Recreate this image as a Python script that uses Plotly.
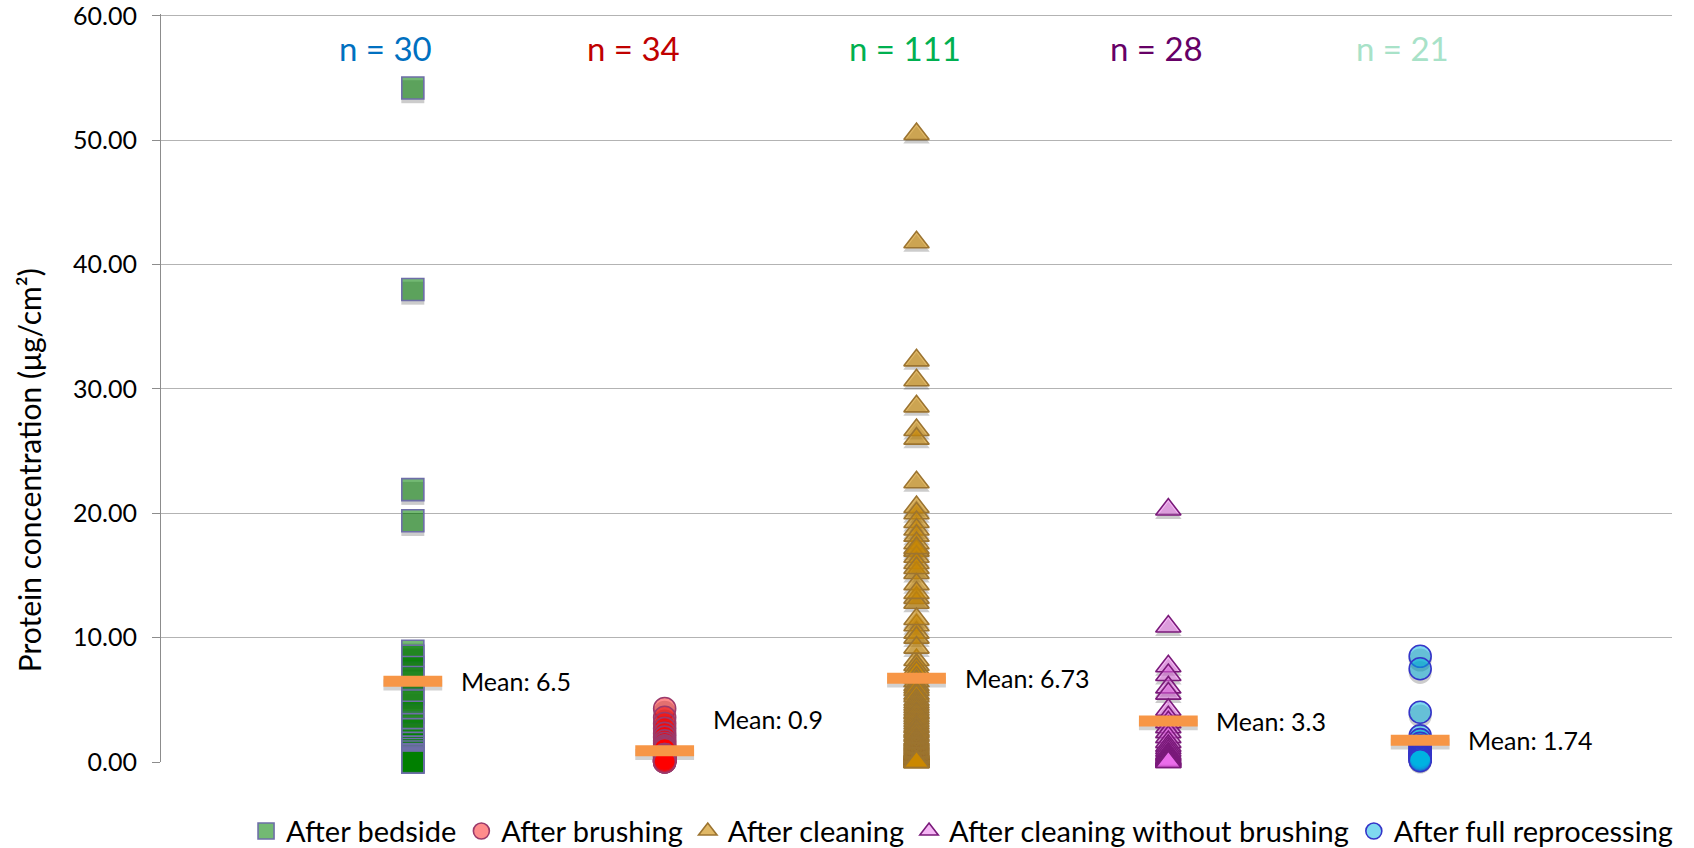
import plotly.graph_objects as go

# ---- data -------------------------------------------------------------
groups = ["After bedside", "After brushing", "After cleaning",
          "After cleaning without brushing", "After full reprocessing"]

bedside = [54.2, 38.0, 21.9, 19.4, 8.9, 8.5, 7.6, 6.8, 5.5, 4.9, 4.0, 3.0,
           2.6, 1.8, 1.5, 1.2, 1.0, 0.8, 0.6, 0.5, 0.4, 0.3, 0.3, 0.2, 0.2,
           0.1, 0.1, 0.0, 0.0, 0.0]

brushing = [4.3, 3.6, 3.1, 2.7, 2.3, 2.0, 1.7, 1.5, 1.3, 1.2, 1.1, 1.0,
            0.6, 0.6, 0.5, 0.5, 0.4, 0.4, 0.3, 0.3, 0.2, 0.2, 0.2, 0.1,
            0.1, 0.1, 0.1, 0.0, 0.0, 0.2, 0.2, 0.1, 0.1, 0.0]

cleaning = [50.5, 41.8, 32.3, 30.7, 28.6, 26.7, 26.0, 22.5, 20.5, 20.0,
            19.3, 18.7, 18.2, 17.6, 17.0, 16.5, 16.0, 15.2, 14.3, 13.2,
            12.8, 11.0, 10.4, 10.0, 8.2, 17.2, 15.6, 13.6, 11.5, 9.2,
            7.8, 7.5, 7.2, 6.8, 6.5, 6.2, 6.0, 5.8, 5.5, 5.3, 5.0,
            4.8, 4.6, 4.4, 4.2, 4.0, 3.9, 3.7, 3.5, 3.3, 3.1,
            2.9, 2.8, 2.6, 2.5, 2.4, 2.2, 2.1,
            1.9, 1.8, 1.7, 1.6, 1.5, 1.4, 1.3, 1.2, 1.1, 1.0,
            0.9, 0.9, 0.8, 0.8, 0.8, 0.7, 0.7, 0.7, 0.6, 0.6, 0.6, 0.6,
            0.5, 0.5, 0.5, 0.5, 0.5, 0.4, 0.4, 0.4, 0.4, 0.4,
            0.3, 0.3, 0.3, 0.3, 0.3, 0.2, 0.2, 0.2, 0.2, 0.2,
            0.1, 0.1, 0.1, 0.1, 0.1, 0.1, 0.0, 0.0, 0.0, 0.0, 0.0]

no_brushing = [20.3, 10.9, 7.7, 7.0, 6.0, 5.5, 4.2, 3.6, 3.2, 2.8, 2.4, 2.0,
               1.6, 1.3, 1.1, 0.9, 0.7, 0.6, 0.5, 0.4, 0.3, 0.3, 0.2, 0.2,
               0.1, 0.1, 0.0, 0.0]

full_reprocessing = [8.5, 7.5, 4.0, 2.1, 1.8, 1.5, 1.3, 1.2, 1.0, 0.9, 0.8,
                     0.7, 0.6, 0.6, 0.5, 0.5, 0.4, 0.4, 0.3, 0.2, 0.1]

series = [bedside, brushing, cleaning, no_brushing, full_reprocessing]

means = [6.5, 0.9, 6.73, 3.3, 1.74]
mean_labels = ["Mean: 6.5", "Mean: 0.9", "Mean: 6.73", "Mean: 3.3", "Mean: 1.74"]
n_labels = ["n = 30", "n = 34", "n = 111", "n = 28", "n = 21"]
y_ticks = [0, 10, 20, 30, 40, 50, 60]

# ---- styles -----------------------------------------------------------
FONT = "Lato, 'Open Sans', sans-serif"
symbols = ["square", "circle", "triangle-up", "triangle-up", "circle"]
fills = ["rgba(0,128,0,0.55)", "rgba(255,0,0,0.45)", "rgba(204,136,0,0.6)",
         "rgba(235,110,235,0.5)", "rgba(0,180,225,0.5)"]
edges = ["#6E6EA8", "#9B3A6B", "#9C7430", "#7A1A7A", "#3535C8"]
sizes = [22, 22, 22, 22, 22]
n_colors = ["#0070C0", "#C00000", "#00B050", "#660066", "#A8E2C8"]
n_xshift = [-27, -31, -12, -12, -18]
mean_yshift = [0, 32, 0, 0, 0]
SHADOW = "rgba(0,0,0,0.2)"
MEAN_COLOR = "#F79646"

fig = go.Figure()

# soft drop shadows, drawn on a hidden axis shifted a few pixels down
for i, vals in enumerate(series):
    fig.add_trace(go.Scatter(
        x=[i + 1] * len(vals), y=vals, mode="markers", xaxis="x", yaxis="y",
        marker=dict(symbol=symbols[i], size=sizes[i] + 1, color=SHADOW,
                    line=dict(width=0)),
        showlegend=False, hoverinfo="skip", cliponaxis=False))
fig.add_trace(go.Scatter(
    x=[i + 1 for i in range(len(means))], y=means, mode="markers",
    xaxis="x", yaxis="y",
    marker=dict(symbol="line-ew", size=42,
                line=dict(width=11, color="rgba(0,0,0,0.18)")),
    showlegend=False, hoverinfo="skip", cliponaxis=False))

# measured protein concentrations
for i, vals in enumerate(series):
    fig.add_trace(go.Scatter(
        x=[i + 1] * len(vals), y=vals, mode="markers", name=groups[i],
        xaxis="x", yaxis="y2",
        marker=dict(symbol=symbols[i], size=sizes[i], color=fills[i],
                    line=dict(width=1.6, color=edges[i])),
        cliponaxis=False))

# group means
fig.add_trace(go.Scatter(
    x=[i + 1 for i in range(len(means))], y=means, mode="markers",
    xaxis="x", yaxis="y2",
    marker=dict(symbol="line-ew", size=42,
                line=dict(width=11, color=MEAN_COLOR)),
    showlegend=False, hoverinfo="skip", cliponaxis=False))

annotations = []
for i, (m, lab) in enumerate(zip(means, mean_labels)):
    annotations.append(dict(
        x=i + 1, y=m, xref="x", yref="y2", text=lab, showarrow=False,
        xanchor="left", yanchor="middle", xshift=46, yshift=mean_yshift[i],
        font=dict(family=FONT, size=25, color="#000000")))
for i, lab in enumerate(n_labels):
    annotations.append(dict(
        x=i + 1, y=0.955, xref="x", yref="paper", text=lab, showarrow=False,
        xanchor="center", yanchor="middle", xshift=n_xshift[i],
        font=dict(family=FONT, size=33, color=n_colors[i])))
annotations.append(dict(
    x=-0.0874, y=0.39, xref="paper", yref="paper",
    text="Protein concentration (μg/cm²)", showarrow=False, textangle=-90,
    xanchor="center", yanchor="middle",
    font=dict(family=FONT, size=30, color="#000000")))

fig.update_layout(
    width=1694, height=848,
    margin=dict(l=161, r=22, t=14, b=86, autoexpand=False),
    paper_bgcolor="white", plot_bgcolor="white",
    font=dict(family=FONT, color="#000000"),
    xaxis=dict(range=[0, 6], showticklabels=False, showgrid=False,
               zeroline=False, showline=False, ticks=""),
    yaxis=dict(range=[0.3, 60.45], visible=False, showgrid=False,
               zeroline=False),
    yaxis2=dict(overlaying="y", side="left", range=[0, 60.15],
                tickvals=y_ticks, tickformat=".2f",
                ticklabeloverflow="allow",
                showgrid=True, gridcolor="#B3B3B3", gridwidth=1,
                zeroline=False, showline=True, linecolor="#8C8C8C",
                linewidth=1, ticks="outside", ticklen=8, tickcolor="#8C8C8C",
                ticklabelstandoff=10,
                tickfont=dict(family=FONT, size=25, color="#000000")),
    legend=dict(orientation="h", x=1.004, xanchor="right", y=-0.0925,
                yanchor="middle", font=dict(family=FONT, size=29),
                itemwidth=30, traceorder="normal",
                bgcolor="rgba(0,0,0,0)"),
    annotations=annotations,
    showlegend=True,
)

fig.write_html("out.html")
